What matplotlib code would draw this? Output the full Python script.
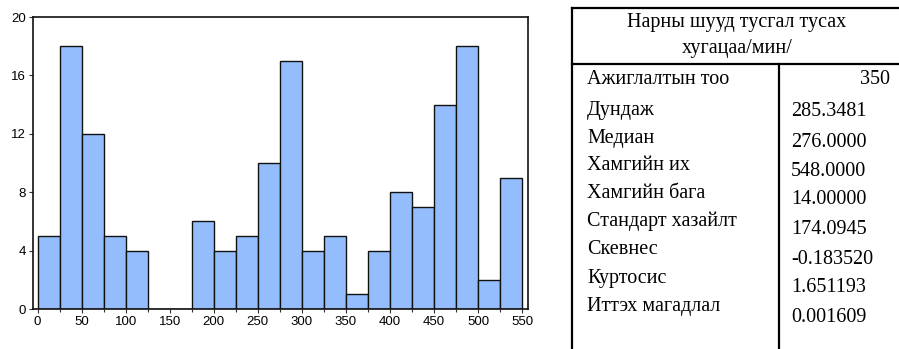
import matplotlib
matplotlib.use("Agg")
import matplotlib.pyplot as plt
import numpy as np

bin_edges = [0, 25, 50, 75, 100, 125, 150, 175, 200, 225, 250, 275, 300,
             325, 350, 375, 400, 425, 450, 475, 500, 525, 550]
counts = [5, 18, 12, 5, 4, 0, 0, 6, 4, 5, 10, 17, 4, 5, 1, 4, 8, 7, 14, 18, 2, 9]
x_ticks = [0, 50, 100, 150, 200, 250, 300, 350, 400, 450, 500, 550]
y_ticks = [0, 4, 8, 12, 16, 20]

title_lines = ["Нарны шууд тусгал тусах", "хугацаа/мин/"]
stat_labels = ["Ажиглалтын тоо", "Дундаж", "Медиан", "Хамгийн их", "Хамгийн бага",
               "Стандарт хазайлт", "Скевнес", "Куртосис", "Иттэх магадлал"]
stat_values = ["350", "285.3481", "276.0000", "548.0000", "14.00000",
               "174.0945", "-0.183520", "1.651193", "0.001609"]

W, H = 899, 349
fig = plt.figure(figsize=(W / 100, H / 100), dpi=100)

ax = fig.add_axes([33 / W, 1 - 309 / H, (527.7 - 33) / W, (309 - 17) / H])
widths = np.diff(bin_edges)
ax.bar(bin_edges[:-1], counts, width=widths, align="edge",
       color="#94BDFD", edgecolor="#111111", linewidth=1.0)
ax.set_xlim(-5.3, 556.4)
ax.set_ylim(0, 20)
ax.set_xticks(x_ticks)
ax.set_xticks(bin_edges[1::2], minor=True)
ax.set_yticks(y_ticks)
ax.tick_params(axis="both", which="major", labelsize=9.5, length=3, width=0.8,
               direction="out", pad=2, color="#333333")
ax.tick_params(axis="x", which="minor", length=2, width=0.8, color="#333333")
for lab in ax.get_xticklabels() + ax.get_yticklabels():
    lab.set_family(["Liberation Sans", "DejaVu Sans"])
for s in ax.spines.values():
    s.set_linewidth(1.2)
    s.set_color("#111111")

# Table
serif = ["Liberation Serif", "DejaVu Serif"]
fs = 14.5
def fx(px):
    return px / W
def fy(py):
    return 1 - py / H

lw = 1.6
left_x, div_x, right_x = 572, 779, 899
fig.add_artist(plt.Line2D([fx(left_x), fx(right_x)], [fy(8), fy(8)], color="black", lw=lw))
fig.add_artist(plt.Line2D([fx(left_x), fx(right_x)], [fy(64), fy(64)], color="black", lw=lw))
fig.add_artist(plt.Line2D([fx(left_x), fx(left_x)], [fy(8), fy(349)], color="black", lw=lw))
fig.add_artist(plt.Line2D([fx(div_x), fx(div_x)], [fy(64), fy(349)], color="black", lw=lw))

fig.text(fx(737), fy(22), title_lines[0], ha="center", va="center", fontsize=fs, family=serif)
fig.text(fx(737), fy(49), title_lines[1], ha="center", va="center", fontsize=fs, family=serif)

label_y = [80, 110, 139, 166, 194, 221, 250, 278, 306]
value_y = [80, 112, 142, 171, 200, 229, 260, 288, 317]
for lab, yy in zip(stat_labels, label_y):
    fig.text(fx(587), fy(yy), lab, ha="left", va="center", fontsize=fs, family=serif)
for i, (val, yy) in enumerate(zip(stat_values, value_y)):
    if i == 0:
        fig.text(fx(890), fy(yy), val, ha="right", va="center", fontsize=fs, family=serif)
    else:
        fig.text(fx(791), fy(yy), val, ha="left", va="center", fontsize=fs, family=serif)

fig.savefig("out.png", dpi=100)
